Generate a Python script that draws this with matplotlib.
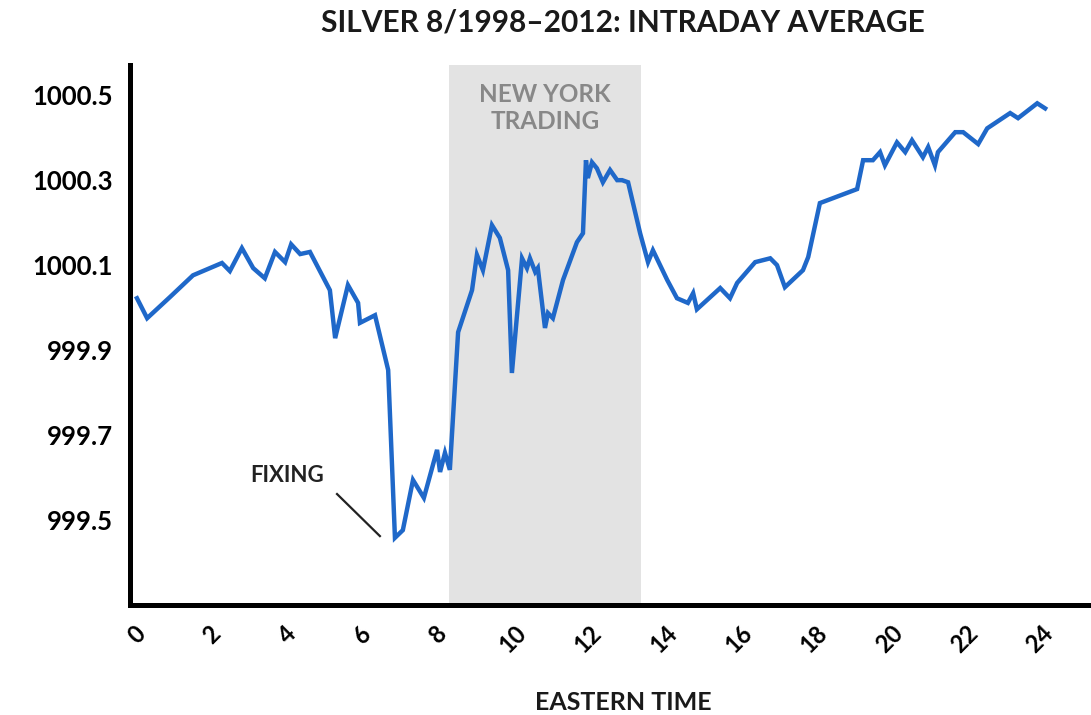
import numpy as np
import matplotlib
matplotlib.use('Agg')
import matplotlib.pyplot as plt

plt.rcParams['font.family'] = ['Lato', 'DejaVu Sans']

# intraday average, hour (eastern time) vs price
hours = [0.0, 0.27, 0.88, 1.49, 2.26, 2.47, 2.79, 3.09, 3.40, 3.67, 3.94, 4.10, 4.34, 4.60,
         5.13, 5.27, 5.61, 5.88, 5.93, 6.33, 6.68, 6.86, 7.07, 7.34, 7.63, 7.98, 8.06, 8.19,
         8.32, 8.54, 8.91, 9.04, 9.20, 9.44, 9.65, 9.87, 9.97, 10.24, 10.37, 10.45, 10.59,
         10.66, 10.85, 10.93, 11.06, 11.33, 11.70, 11.86, 11.94, 11.99, 12.10, 12.23, 12.39,
         12.58, 12.77, 12.90, 13.06, 13.38, 13.59, 13.72, 14.10, 14.36, 14.65, 14.79, 14.89,
         15.51, 15.77, 15.96, 16.44, 16.84, 17.02, 17.23, 17.71, 17.85, 18.16, 19.15, 19.31,
         19.57, 19.76, 19.89, 20.21, 20.43, 20.61, 20.90, 21.04, 21.22, 21.30, 21.76, 21.97,
         22.37, 22.61, 23.22, 23.43, 23.94, 24.15]
price = [1000.022, 999.975, 1000.025, 1000.076, 1000.105, 1000.086, 1000.140, 1000.093,
         1000.069, 1000.131, 1000.107, 1000.149, 1000.126, 1000.131, 1000.041, 999.928,
         1000.053, 1000.011, 999.964, 999.982, 999.853, 999.458, 999.476, 999.594, 999.552,
         999.665, 999.613, 999.658, 999.618, 999.942, 1000.041, 1000.124, 1000.088, 1000.194,
         1000.164, 1000.088, 999.846, 1000.116, 1000.093, 1000.116, 1000.084, 1000.093,
         999.952, 999.987, 999.975, 1000.065, 1000.154, 1000.175, 1000.347, 1000.305,
         1000.342, 1000.328, 1000.295, 1000.324, 1000.300, 1000.300, 1000.295, 1000.175,
         1000.107, 1000.135, 1000.065, 1000.022, 1000.011, 1000.034, 999.996, 1000.046,
         1000.022, 1000.058, 1000.107, 1000.116, 1000.100, 1000.048, 1000.088, 1000.119,
         1000.246, 1000.279, 1000.347, 1000.347, 1000.366, 1000.335, 1000.389, 1000.366,
         1000.394, 1000.354, 1000.378, 1000.335, 1000.366, 1000.413, 1000.413, 1000.385,
         1000.422, 1000.458, 1000.446, 1000.481, 1000.469]

ny_session = (8.3, 13.4)
x_ticks = list(range(0, 25, 2))
y_ticks = [999.5, 999.7, 999.9, 1000.1, 1000.3, 1000.5]

# fixing label and its leader line (hour, price)
fix_text = (3.99, 999.604)
fix_line_h = [5.32, 6.46]
fix_line_p = [999.561, 999.462]

fig = plt.figure(figsize=(10.91, 7.15), dpi=100)
ax = fig.add_axes([0.119, 0.154, 0.881, 0.755])

ax.axvspan(ny_session[0], ny_session[1], color='#e3e3e3', lw=0, zorder=0)
ax.text(sum(ny_session) / 2, 1000.47, 'NEW YORK\nTRADING', ha='center', va='center',
        fontsize=17.5, color='#888888', fontweight='bold', linespacing=1.25)

ax.plot(hours, price, color='#1f68c9', lw=3.2, solid_joinstyle='miter', zorder=3)

ax.text(fix_text[0], fix_text[1], 'FIXING', ha='center', va='center', fontsize=16,
        fontweight='bold', color='#222222')
ax.plot(fix_line_h, fix_line_p, color='#222222', lw=1.6)

ax.set_xlim(-0.19, 25.37)
ax.set_ylim(999.3, 1000.571)
ax.set_xticks(x_ticks)
ax.set_xticklabels([str(t) for t in x_ticks], rotation=45, ha='center', va='top',
                   fontsize=17, fontweight='bold')
ax.set_yticks(y_ticks)
ax.set_yticklabels([f'{v:.1f}' for v in y_ticks], fontsize=18.5, fontweight='bold')
ax.tick_params(length=0, pad=12)
ax.tick_params(axis='x', pad=12)

for s in ['top', 'right']:
    ax.spines[s].set_visible(False)
for s in ['left', 'bottom']:
    ax.spines[s].set_linewidth(3.6)
    ax.spines[s].set_color('black')

fig.text(0.571, 0.017, 'EASTERN TIME', ha='center', va='center', fontsize=18,
         fontweight='bold', color='#1a1a1a')
fig.text(0.571, 0.969, 'SILVER 8/1998\u20132012: INTRADAY AVERAGE', ha='center', va='center',
         fontsize=21.5, fontweight='bold', color='#1a1a1a')

fig.savefig('out.png', dpi=100)
